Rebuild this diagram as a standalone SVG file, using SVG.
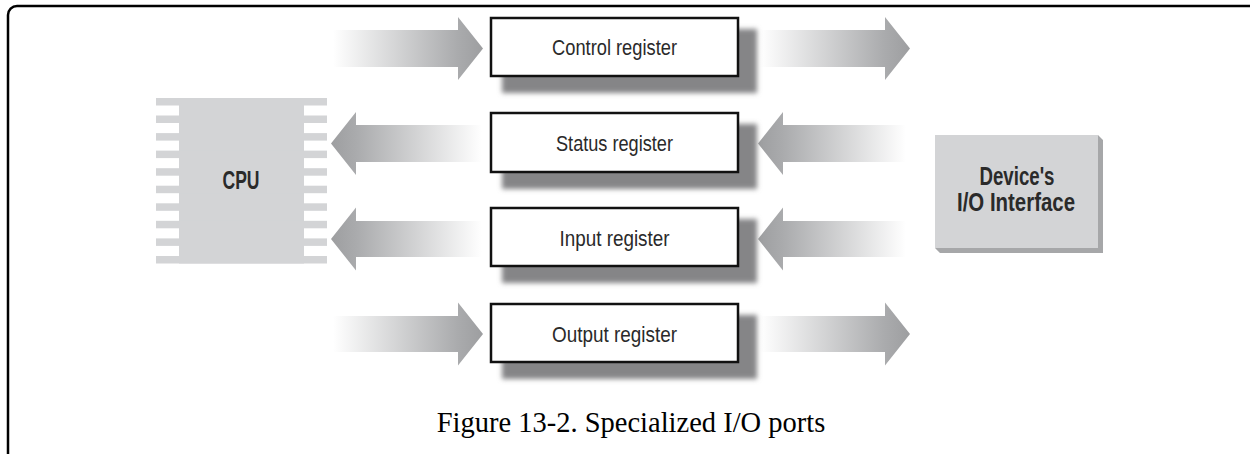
<svg xmlns="http://www.w3.org/2000/svg" width="1250" height="454" viewBox="0 0 1250 454">
<style>
.box{fill:#ffffff;stroke:#111111;stroke-width:2.5}
.shadow{fill:#858587;filter:url(#blur)}
.reg{font-family:"Liberation Sans",Arial,sans-serif;font-size:22px;fill:#2a2a2a;text-anchor:middle}
.bold{font-family:"Liberation Sans",Arial,sans-serif;font-weight:bold;font-size:25px;fill:#2a2a2a;text-anchor:middle}
.chip{fill:#d3d4d6}
.cap{font-family:"Liberation Serif","Times New Roman",serif;font-size:28.5px;fill:#000;text-anchor:middle}
</style>
<defs>
<filter id="blur" x="-10%" y="-20%" width="120%" height="140%"><feGaussianBlur stdDeviation="2.5"/></filter>
<linearGradient id="gR" x1="0" y1="0" x2="1" y2="0">
<stop offset="0" stop-color="#ffffff"/>
<stop offset="0.83" stop-color="#aaabad"/>
<stop offset="1" stop-color="#9d9ea0"/>
</linearGradient>
<linearGradient id="gL" x1="1" y1="0" x2="0" y2="0">
<stop offset="0" stop-color="#ffffff"/>
<stop offset="0.83" stop-color="#aaabad"/>
<stop offset="1" stop-color="#9d9ea0"/>
</linearGradient>
</defs>
<rect x="0" y="0" width="1250" height="454" fill="#ffffff"/>
<rect x="8" y="6" width="1270" height="480" rx="9" fill="none" stroke="#000" stroke-width="2.5"/>

<g id="connectors">
<path fill="url(#gR)" d="M333,30 L458,30 L458,17 L483,48.5 L458,80 L458,67 L333,67 Z"/>
<path fill="url(#gR)" d="M760,30 L885,30 L885,17 L910,48.5 L885,80 L885,67 L760,67 Z"/>
<path fill="url(#gL)" d="M331,143.5 L356,112 L356,125 L482,125 L482,162 L356,162 L356,175 Z"/>
<path fill="url(#gL)" d="M758,143.5 L783,112 L783,125 L906,125 L906,162 L783,162 L783,175 Z"/>
<path fill="url(#gL)" d="M331,239 L356,207.5 L356,221 L482,221 L482,257 L356,257 L356,270.5 Z"/>
<path fill="url(#gL)" d="M758,239 L783,207.5 L783,221 L906,221 L906,257 L783,257 L783,270.5 Z"/>
<path fill="url(#gR)" d="M333,316 L458,316 L458,302.5 L483,334 L458,365.5 L458,352 L333,352 Z"/>
<path fill="url(#gR)" d="M760,316 L885,316 L885,302.5 L910,334 L885,365.5 L885,352 L760,352 Z"/>
</g>

<g id="cpu">
<rect class="chip" x="179" y="98" width="125" height="165.5"/>
<g class="chip">
<rect x="156" y="98" width="171" height="7.5"/>
<rect x="156" y="115.5" width="171" height="7.5"/>
<rect x="156" y="133.1" width="171" height="7.5"/>
<rect x="156" y="150.6" width="171" height="7.5"/>
<rect x="156" y="168.2" width="171" height="7.5"/>
<rect x="156" y="185.7" width="171" height="7.5"/>
<rect x="156" y="203.3" width="171" height="7.5"/>
<rect x="156" y="220.8" width="171" height="7.5"/>
<rect x="156" y="238.4" width="171" height="7.5"/>
<rect x="156" y="256" width="171" height="7.5"/>
</g>
<text class="bold" x="241" y="189" textLength="37" lengthAdjust="spacingAndGlyphs">CPU</text>
</g>

<g id="control">
<rect class="shadow" x="502" y="29" width="255" height="64"/>
<rect class="box" x="491" y="18" width="247" height="58"/>
<text class="reg" x="614.5" y="55" textLength="125" lengthAdjust="spacingAndGlyphs">Control register</text>
</g>

<g id="status">
<rect class="shadow" x="502" y="124" width="255" height="65"/>
<rect class="box" x="491" y="113" width="247" height="59"/>
<text class="reg" x="614.5" y="151" textLength="117" lengthAdjust="spacingAndGlyphs">Status register</text>
</g>

<g id="input">
<rect class="shadow" x="502" y="219" width="255" height="64"/>
<rect class="box" x="491" y="208" width="247" height="58"/>
<text class="reg" x="614.5" y="246" textLength="110" lengthAdjust="spacingAndGlyphs">Input register</text>
</g>

<g id="output">
<rect class="shadow" x="502" y="315" width="255" height="64"/>
<rect class="box" x="491" y="304" width="247" height="58"/>
<text class="reg" x="614.5" y="342" textLength="125" lengthAdjust="spacingAndGlyphs">Output register</text>
</g>

<g id="device">
<path fill="#a6a7a9" d="M1098,135 L1103,140 L1103,253 L940,253 L935,248 L1098,248 Z"/>
<rect x="935" y="135" width="163" height="113" fill="#d3d4d6"/>
<text class="bold" x="1017" y="185" textLength="75" lengthAdjust="spacingAndGlyphs">Device's</text>
<text class="bold" x="1016" y="211" textLength="118" lengthAdjust="spacingAndGlyphs">I/O Interface</text>
</g>

<text class="cap" x="631" y="432">Figure 13-2. Specialized I/O ports</text>
</svg>
